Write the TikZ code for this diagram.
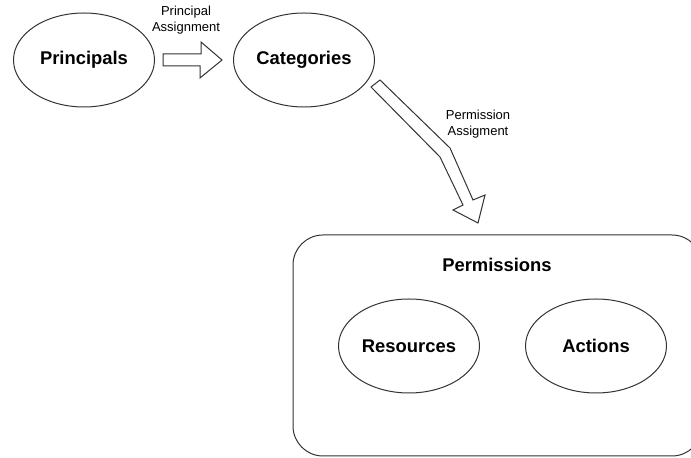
\documentclass[tikz,border=0pt]{standalone}
\usepackage{fontspec}
\setmainfont{Liberation Sans}
\usetikzlibrary{shapes.geometric, calc}

\begin{document}
\begin{tikzpicture}[x=0.5pt, y=-0.5pt]
	\tikzset{ensemble/.style={ellipse, draw=black!80, line width=0.5pt, minimum width=70.5pt, minimum height=47pt, inner sep=0pt, font=\fontsize{9.2}{11}\selectfont\bfseries},
	fleche/.style={draw=black!80, line width=0.5pt, fill=white, line join=miter},
	etiquette/.style={align=center, font=\fontsize{6.5}{7.8}\selectfont}};

	\clip (0,0) rectangle (691,458);

	\node[draw=black!80, line width=0.5pt, rounded corners=15pt, minimum width=204.5pt, minimum height=110.5pt] (perm) at (497.5,345.5) {};
	\node[font=\fontsize{9.2}{11}\selectfont\bfseries] (perm-titre) at (497,265) {Permissions};

	\foreach \name/\x/\y/\texte in {prin/84/60/Principals, cat/304/60/Categories, res/409/346/Resources, act/596/346/Actions}{
		\node[ensemble] (\name) at (\x, \y) {\texte};
	}

	\draw[fleche] ($(prin.east)+(8,-6)$) -- ++(38,0) -- ++(0,-12) -- ($(cat.west)+(-11,0)$) -- ++(-22,18) -- ++(0,-12) -- ($(prin.east)+(8,6)$) -- cycle;
	\draw[fleche] (371,87) -- (440,157) -- (463,205) -- (453,210) -- (478,223) -- (485,195) -- (473,200) -- (450,148) -- (380,80) -- cycle;

	\node[etiquette] (lbl-prin) at (186,20) {Principal\\Assignment};
	\node[etiquette] (lbl-perm) at (478,124) {Permission\\Assigment};

\end{tikzpicture}
\end{document}
